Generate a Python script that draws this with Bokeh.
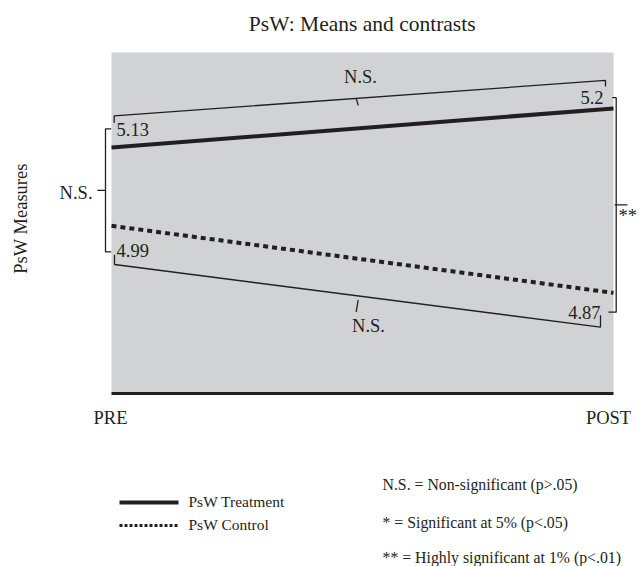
from bokeh.plotting import figure
from bokeh.models import Range1d
from bokeh.core.properties import value
from bokeh.embed import file_html
from bokeh.resources import INLINE
import math

# ---------------- data ----------------
phases = ["PRE", "POST"]
phase_x = [0, 1]
treatment = [5.13, 5.20]
control = [4.99, 4.87]
treatment_labels = ["5.13", "5.2"]
control_labels = ["4.99", "4.87"]
series_names = ["PsW Treatment", "PsW Control"]
contrast_time = "N.S."        # treatment PRE vs POST
contrast_control = "N.S."     # control PRE vs POST
contrast_pre = "N.S."         # PRE: treatment vs control
contrast_post = "**"          # POST: treatment vs control
key_lines = ["N.S. = Non-significant (p>.05)",
             "* = Significant at 5% (p<.05)",
             "** = Highly significant at 1% (p<.01)"]
title_text = "PsW: Means and contrasts"
ylabel_text = "PsW Measures"
V_TOP, V_BOT = 5.30, 4.69     # value axis limits

# ---------------- geometry ----------------
W, H = 640, 566
ORIGIN = 0
LEFT_PX, RIGHT_PX = 111.0, 613.0      # page px of PRE / POST
TOP_PX, BOT_PX = 52.0, 393.0          # page px of V_TOP / V_BOT
PXX = RIGHT_PX - LEFT_PX
PXY = (BOT_PX - TOP_PX) / (V_TOP - V_BOT)

def X(px):  # page px -> data x
    return (px - LEFT_PX) / PXX

def Y(py):  # page px -> data value
    return V_TOP - (py - TOP_PX) / PXY

def dx(px):
    return px / PXX

def dv(px):
    return px / PXY

INK = "#231f20"
GRAY = "#d1d2d4"
FONT = value("Liberation Serif")

p = figure(width=W, height=H, output_backend="svg", toolbar_location=None,
           x_range=Range1d(X(ORIGIN), X(ORIGIN + W)),
           y_range=Range1d(Y(ORIGIN + H), Y(ORIGIN)),
           x_axis_location=None, y_axis_location=None, min_border=0)
p.grid.visible = False
p.outline_line_color = None
p.background_fill_color = "white"
p.border_fill_color = "white"

# plot area
p.quad(left=phase_x[0], right=phase_x[1], bottom=V_BOT, top=V_TOP,
       fill_color=GRAY, line_color=None)
p.line(x=phase_x, y=[V_BOT, V_BOT], line_color=INK, line_width=3)

# series lines
p.line(x=phase_x, y=treatment, line_color=INK, line_width=4)
p.line(x=phase_x, y=control, line_color=INK, line_width=4, line_dash="5 4")

def txt(x, y, t, size="18.5px", align="left", base="middle", angle=0.0):
    p.text(x=[x], y=[y], text=[t], text_font=FONT, text_font_size=size,
           text_align=align, text_baseline=base, text_color=INK, angle=angle)

BW = 1.3
# value labels
txt(phase_x[0] + dx(5), treatment[0] + dv(17.7), treatment_labels[0])
txt(phase_x[0] + dx(5), control[0] - dv(25), control_labels[0])
txt(phase_x[1] - dx(10), treatment[1] + dv(10.7), treatment_labels[1], align="right")
txt(phase_x[1] - dx(13), control[1] - dv(19.3), control_labels[1], align="right")

def interp(xs, ys, xt):
    return ys[1] + (ys[2] - ys[1]) * (xt - xs[1]) / (xs[2] - xs[1])

# top bracket: treatment PRE vs POST
bx = [phase_x[0] + dx(2.7), phase_x[0] + dx(2.7), phase_x[1] - dx(8), phase_x[1] - dx(8)]
by = [treatment[0] + dv(24.7), treatment[0] + dv(31.7), treatment[1] + dv(28), treatment[1] + dv(22)]
p.line(x=bx, y=by, line_color=INK, line_width=BW)
xt = X(356.7)
yb = interp(bx, by, xt)
p.line(x=[xt - dx(1), xt + dx(1)], y=[yb, yb - dv(7)], line_color=INK, line_width=BW)
txt(X(360), yb + dv(21.5), contrast_time, align="center")

# bottom bracket: control PRE vs POST
cx = [phase_x[0] + dx(3), phase_x[0] + dx(3), phase_x[1] - dx(13), phase_x[1] - dx(13)]
cy = [control[0] - dv(29), control[0] - dv(38.7), control[1] - dv(34.3), control[1] - dv(22.3)]
p.line(x=cx, y=cy, line_color=INK, line_width=BW)
yc = interp(cx, cy, xt)
p.line(x=[xt + dx(1), xt - dx(1)], y=[yc - dv(4), yc - dv(16)], line_color=INK, line_width=BW)
txt(X(368), yc - dv(30), contrast_control, align="center")

# left bracket: PRE treatment vs control
lx_v = phase_x[0] - dx(6)
ly_top = treatment[0] + dv(18.7)
ly_bot = control[0] - dv(26)
p.line(x=[phase_x[0] - dx(0.3), lx_v, lx_v, phase_x[0] - dx(0.3)],
       y=[ly_top, ly_top, ly_bot, ly_bot], line_color=INK, line_width=BW)
lmid = (ly_top + ly_bot) / 2
p.line(x=[phase_x[0] - dx(14.3), lx_v], y=[lmid, lmid], line_color=INK, line_width=BW)
txt(phase_x[0] - dx(19), lmid - dv(2.5), contrast_pre, align="right")

# right bracket: POST treatment vs control
rx_v = phase_x[1] + dx(2.7)
ry_top = treatment[1] + dv(10.7)
ry_bot = control[1] - dv(19.3)
p.line(x=[phase_x[1] - dx(1.3), rx_v, rx_v, phase_x[1] - dx(5)],
       y=[ry_top, ry_top, ry_bot, ry_bot], line_color=INK, line_width=BW)
rmid = (ry_top + ry_bot) / 2
p.line(x=[phase_x[1] + dx(1), phase_x[1] + dx(14)], y=[rmid, rmid], line_color=INK, line_width=BW)
txt(phase_x[1] + dx(5), rmid - dv(11), contrast_post)

# category labels
for px_, lab, off in zip(phase_x, phases, [-1, -5]):
    txt(px_ + dx(off), V_BOT - dv(24), lab, align="center")

# title & y label
txt(X(361.7), Y(23), title_text, size="21.5px", align="center")
txt(X(20), Y(218), ylabel_text, align="center", angle=math.pi / 2)

# legend
p.line(x=[X(119), X(178)], y=[Y(502), Y(502)], line_color=INK, line_width=4)
p.line(x=[X(119), X(178)], y=[Y(525), Y(525)], line_color=INK, line_width=3, line_dash="3 2")
txt(X(188), Y(501), series_names[0], size="15.5px")
txt(X(188), Y(524), series_names[1], size="15.5px")
for yy, line in zip([484, 522, 557], key_lines):
    txt(X(382), Y(yy), line, size="15.8px")

open("out.html", "w").write(file_html(p, INLINE))
